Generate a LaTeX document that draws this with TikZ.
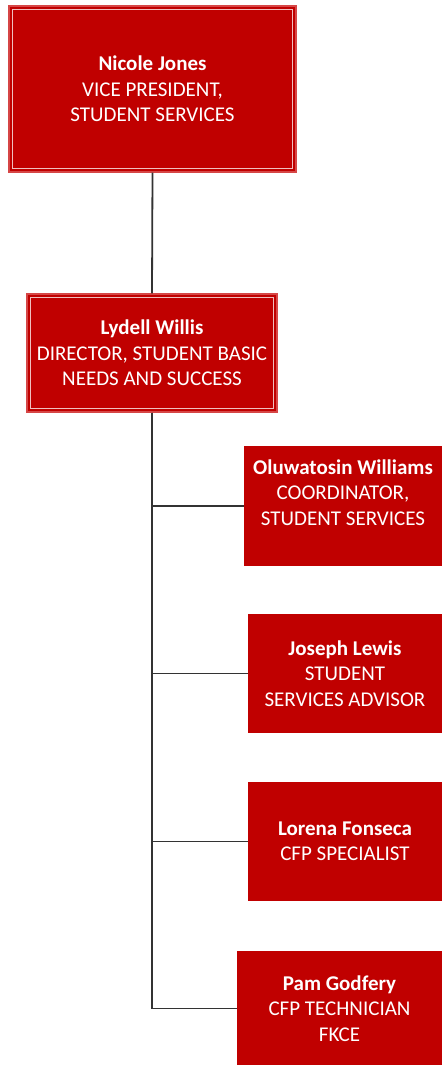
\documentclass[tikz,border=0pt]{standalone}
\usepackage{fontspec}
\setmainfont{Carlito}
\definecolor{boxred}{RGB}{192,0,0}
\definecolor{edgered}{RGB}{214,70,70}
\tikzset{
  person/.style={fill=boxred, text=white, align=center, inner sep=0pt,
    font=\fontsize{21}{25.3}\selectfont},
  framed/.style={person, draw=edgered, line width=1.2pt},
  link/.style={draw=black!80, line width=1.8pt}
}
\begin{document}
\begin{tikzpicture}[x=1pt,y=-1pt]
			%%%%% START %%%%%
			\useasboundingbox (0,0) rectangle (442,1065);
			
			\node[framed, minimum width=287pt, minimum height=166pt] (vp) at (152.5, 89)
				{\textbf{Nicole Jones}\\VICE PRESIDENT,\\STUDENT SERVICES};
			\draw[white!75!boxred, line width=0.6pt] ([xshift=4pt,yshift=-4pt]vp.north west) rectangle ([xshift=-4pt,yshift=4pt]vp.south east);
			
			\node[framed, minimum width=250pt, minimum height=118pt] (dir) at (152, 353)
				{\textbf{Lydell Willis}\\DIRECTOR, STUDENT BASIC\\NEEDS AND SUCCESS};
			\draw[white!75!boxred, line width=0.6pt] ([xshift=4pt,yshift=-4pt]dir.north west) rectangle ([xshift=-4pt,yshift=4pt]dir.south east);
			
			\node[person, minimum width=198pt, minimum height=120pt] (coord) at (343, 506)
				{\textbf{Oluwatosin Williams}\\COORDINATOR,\\STUDENT SERVICES\\[2pt]};
			\node[person, minimum width=194pt, minimum height=119pt] (advisor) at (345, 673.5)
				{\textbf{Joseph Lewis}\\STUDENT\\SERVICES ADVISOR};
			\node[person, minimum width=194pt, minimum height=119pt] (spec) at (345, 841.5)
				{\textbf{Lorena Fonseca}\\CFP SPECIALIST};
			\node[person, minimum width=205pt, minimum height=115pt] (tech) at (339.5, 1008.5)
				{\textbf{Pam Godfery}\\CFP TECHNICIAN\\FKCE};
			
			\draw[link] (vp.south) -- (dir.north);
			\draw[link] (dir.south) |- (coord.west);
			\draw[link] (dir.south) |- (advisor.west);
			\draw[link] (dir.south) |- (spec.west);
			\draw[link] (dir.south) |- (tech.west);
			
			%%%%% END %%%%%
		\end{tikzpicture}
\end{document}
